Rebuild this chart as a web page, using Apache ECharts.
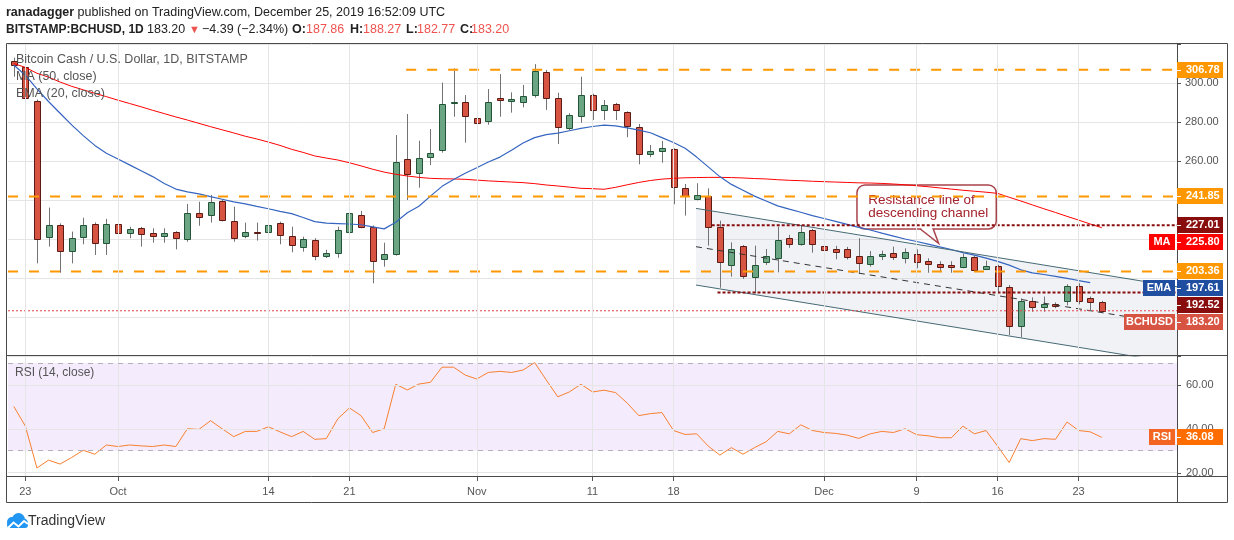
<!DOCTYPE html>
<html lang="en">
<head>
<meta charset="UTF-8">
<title>BCHUSD 1D - descending channel</title>
<script src="https://cdn.jsdelivr.net/npm/echarts@6/dist/echarts.min.js"></script>
<style>
  html, body { margin: 0; padding: 0; background: #fff; }
  #chart { width: 1234px; height: 540px; }
</style>
</head>
<body>
<div id="chart"></div>
<script>
'use strict';

// ---- data (read off the snapshot) ----
// one category per day, Sep 22 .. Dec 31 2019
var firstDay = Date.UTC(2019, 8, 22);
var dates = [];
for (var k = 0; k <= 100; k++) {
    dates.push(new Date(firstDay + k * 864e5).toISOString().slice(0, 10));
}
var tickDates = ['2019-09-23', '2019-10-01', '2019-10-14', '2019-10-21', '2019-11-01', '2019-11-11',
    '2019-11-18', '2019-12-01', '2019-12-09', '2019-12-16', '2019-12-23'];
var tickNames = ['23', 'Oct', '14', '21', 'Nov', '11', '18', 'Dec', '9', '16', '23'];

// [open, high, low, close], Sep 22 .. Dec 25
var candles = [
    [311.4, 313.0, 303.2, 309.1], [308.0, 309.5, 291.0, 292.5], [290.8, 291.5, 207.5, 219.8], [220.9, 236.1, 216.1, 227.2],
    [227.2, 228.0, 202.7, 214.0], [213.7, 223.8, 207.5, 220.4], [220.9, 230.9, 217.3, 227.2], [227.7, 228.5, 211.8, 218.1],
    [218.1, 230.3, 211.8, 227.7], [227.7, 236.1, 218.6, 223.2], [223.2, 226.3, 220.4, 225.1], [225.5, 226.2, 216.1, 222.4],
    [223.1, 225.5, 218.1, 221.7], [221.7, 225.5, 218.1, 223.1], [223.4, 224.0, 214.7, 220.4], [219.8, 238.0, 218.6, 233.2],
    [233.2, 239.1, 226.8, 231.5], [232.2, 242.6, 228.4, 238.8], [239.6, 240.2, 229.0, 229.7], [229.4, 236.6, 218.6, 220.4],
    [221.4, 228.4, 220.4, 223.8], [223.5, 228.4, 219.2, 223.0], [223.4, 230.9, 221.2, 227.2], [228.1, 228.9, 217.3, 221.9],
    [221.5, 226.3, 213.2, 216.9], [216.1, 221.2, 213.5, 220.0], [219.5, 220.4, 209.1, 211.4], [211.4, 214.5, 210.3, 212.8],
    [213.0, 226.3, 210.4, 224.5], [223.4, 236.6, 222.8, 233.2], [232.2, 234.4, 225.5, 226.3], [226.3, 227.0, 197.3, 208.9],
    [209.7, 218.1, 205.8, 212.2], [212.2, 273.3, 211.5, 259.3], [260.9, 284.1, 240.0, 253.2], [253.7, 270.4, 246.3, 261.4],
    [261.9, 276.4, 257.9, 264.0], [265.6, 300.2, 264.3, 289.1], [289.6, 307.5, 282.7, 290.1], [290.4, 293.8, 269.4, 283.2],
    [281.9, 283.6, 269.9, 279.3], [280.4, 296.9, 278.6, 290.1], [292.1, 304.6, 282.7, 291.4], [291.0, 295.2, 284.8, 291.6],
    [290.1, 299.0, 287.5, 293.3], [293.7, 309.7, 292.5, 306.0], [305.5, 306.7, 286.2, 292.2], [292.2, 295.0, 268.7, 277.3],
    [276.8, 284.5, 275.9, 283.4], [282.9, 303.2, 279.6, 293.8], [293.8, 294.5, 281.0, 286.2], [286.0, 291.3, 281.0, 288.7],
    [289.1, 289.8, 281.0, 286.0], [285.0, 285.5, 272.2, 277.8], [277.3, 279.0, 258.3, 263.4], [263.4, 268.2, 261.9, 265.3],
    [265.0, 270.3, 259.1, 266.5], [266.0, 266.5, 237.8, 246.5], [246.0, 248.2, 232.0, 241.9], [240.4, 248.6, 239.8, 242.4],
    [241.9, 246.0, 216.6, 226.0], [226.2, 229.4, 195.0, 208.4], [206.5, 218.3, 200.7, 214.7], [216.4, 216.9, 199.5, 201.2],
    [200.7, 216.6, 192.2, 206.7], [208.4, 214.9, 206.7, 211.3], [210.1, 226.3, 202.9, 219.5], [220.7, 222.1, 215.5, 217.3],
    [217.3, 227.2, 216.6, 223.8], [224.5, 225.2, 213.0, 217.3], [216.4, 217.8, 209.1, 214.2], [214.7, 216.5, 209.6, 213.5],
    [214.7, 216.0, 209.5, 210.6], [211.3, 220.4, 202.2, 207.5], [207.2, 213.8, 205.8, 211.3], [211.3, 214.0, 209.2, 212.3],
    [212.7, 216.1, 209.2, 211.0], [210.1, 215.2, 207.5, 213.5], [212.3, 214.7, 205.0, 208.0], [208.7, 210.1, 202.7, 207.3],
    [207.2, 208.6, 203.0, 205.5], [206.7, 208.6, 202.7, 205.8], [205.8, 212.5, 205.0, 211.0], [211.0, 211.5, 203.5, 204.1],
    [204.6, 208.9, 204.1, 206.3], [206.3, 206.8, 192.2, 195.9], [195.2, 196.4, 170.8, 175.4], [175.6, 189.6, 169.6, 188.2],
    [188.4, 190.1, 182.7, 185.3], [185.3, 190.5, 182.7, 186.7], [186.7, 187.5, 184.5, 185.8], [188.4, 196.8, 186.0, 195.9],
    [196.1, 197.3, 186.5, 188.4], [189.6, 190.5, 183.6, 187.59], [187.86, 188.27, 182.77, 183.20]
];

var ma50 = [310, 308, 305, 303, 300.5, 298.3, 296.5, 294.7, 293, 291.2,
    289.5, 287.8, 286, 284.3, 282.6, 281, 279.3, 277.6, 276, 274.4,
    272.7, 271.3, 269.7, 268, 266, 264.4, 262.6, 261.5, 260.5, 259.1,
    257.5, 255.8, 254.3, 253.2, 252.3, 251.6, 251.1, 250.9, 250.8, 250.6,
    250.2, 249.8, 249.5, 249.2, 248.9, 248.4, 247.7, 247.2, 246.6, 246,
    245.8, 245.5, 246.5, 247.8, 249, 250, 250.7, 251.1, 251.4, 251.5,
    251.6, 251.6, 251.5, 251.3, 251, 250.8, 250.4, 250.1, 249.9, 249.6,
    249.4, 249.2, 249, 248.8, 248.7, 248.5, 248.2, 247.8, 247.3, 246.8,
    246.2, 245.6, 245, 244.5, 244, 243.4, 241.4, 239.5, 237.5, 235.5,
    233.6, 231.6, 229.7, 227.7, 225.80];

var ema20 = [309.2, 304, 297, 290.5, 284.5, 278.5, 273, 268, 264, 261,
    258, 255, 252, 248.5, 245.6, 244.2, 243.1, 241.7, 240.4, 239,
    238, 236.7, 235.5, 234.2, 233, 231, 228.9, 228.1, 227.9, 227.7,
    227.3, 226.2, 225.2, 228.6, 233.5, 236.8, 242, 247, 250.5, 253.7,
    256.5, 259.5, 262, 265.5, 269.2, 272, 273.5, 274.3, 275.5, 276.7,
    277.7, 278.4, 278, 277, 275.8, 274.5, 272, 269.5, 266.5, 262,
    257, 252, 248, 245, 242, 239.5, 237, 235.3, 233.7, 232,
    230.5, 229, 227.5, 226, 224.6, 223, 221.5, 220, 218.7, 217.4,
    216, 214.6, 213, 211.7, 210.2, 208.5, 206.6, 204.2, 202.6, 201.8,
    200.8, 199.8, 198.7, 197.61];

var rsi14 = [50.2, 41.2, 22.1, 25.7, 23.9, 26.9, 30.2, 28.4, 32.6, 31.9,
    32.6, 32.2, 31.9, 32.6, 31.9, 40, 39.7, 43.7, 40, 36.4,
    38.8, 38.8, 40.9, 38.6, 36.4, 38.8, 35.2, 35.5, 44.6, 49.5,
    46, 38.3, 40, 60.3, 57.7, 60.4, 61.2, 68.1, 68.1, 64.5,
    62.7, 65.7, 66.2, 65.7, 66.8, 70.2, 62.3, 54.6, 56.8, 60.3,
    56.8, 57.6, 56.5, 51.7, 46, 46.9, 47.4, 39.2, 37.4, 37.7,
    32.1, 28, 31.4, 28.4, 31.4, 34.1, 38.8, 37.7, 41.8, 39.2,
    38.3, 37.9, 37.1, 35.6, 37.7, 38.8, 38.3, 40, 37.3, 36.8,
    35.9, 35.9, 41.2, 37.7, 39.2, 32.1, 24.6, 35.5, 34.6, 35.5,
    35.2, 43.1, 39.2, 38.6, 36.08];

// drawings, x in day index (0 = Sep 22), y in price
var orangeLevels = [306.78, 241.85, 203.36];
var orangeStarts = [33.9, -0.5, -0.5];
var redLevels = [227.01, 192.52];
var redStarts = [60.3, 60.8];
var channelUpper = [[58.94, 235.7], [100.5, 195.5]];
var channelLower = [[58.94, 196.4], [100.5, 156.25]];
var channelMid = [[58.94, 216.05], [96.2, 180.15]];
var calloutTip = [79.9, 217.8];
var calloutText = 'Resistance line of\ndescending channel';
var rsiGuides = [70, 30];
var rsiGrid = [20, 40, 60];

// ---- styles ----
var FONT = "'Liberation Sans', 'DejaVu Sans', Arial, sans-serif";
var UP_FILL = '#6ba583', UP_LINE = '#225437';
var DN_FILL = '#d75442', DN_LINE = '#5b1a13';
var WICK = '#737375';
var ORANGE = '#ff9800', DARKRED = '#880e0e';
var MA_RED = '#ff0000', EMA_BLUE = '#3565c0', EMA_BADGE = '#1f4ea1';
var RSI_LINE = '#f7802f';
var GRID = '#e5e5e5', TEXT = '#555';
var AXIS_X = 1177;

var lastIdx = candles.length - 1;
var lastClose = candles[lastIdx][3];

function renderCandle(params, api) {
    var i = api.value(0), o = api.value(1), c = api.value(2), l = api.value(3), h = api.value(4);
    var pO = api.coord([i, o]), pC = api.coord([i, c]);
    var pH = api.coord([i, h]), pL = api.coord([i, l]);
    var x = Math.round(pO[0]);
    var up = c >= o;
    var yTop = Math.round(Math.min(pO[1], pC[1])) + 0.5;
    var yBot = Math.round(Math.max(pO[1], pC[1])) + 0.5;
    if (yBot - yTop < 1) yBot = yTop + 1;
    return {
        type: 'group',
        children: [
            {type: 'line', shape: {x1: x + 0.5, y1: pH[1], x2: x + 0.5, y2: pL[1]},
                style: {stroke: WICK, lineWidth: 1}},
            {type: 'rect', shape: {x: x - 2.5, y: yTop, width: 6, height: yBot - yTop},
                style: {fill: up ? UP_FILL : DN_FILL, stroke: up ? UP_LINE : DN_LINE, lineWidth: 1}}
        ]
    };
}

function renderChannel(params, api) {
    var pts = channelUpper.map(function (p) { return api.coord(p); })
        .concat(channelLower.slice().reverse().map(function (p) { return api.coord(p); }));
    return {type: 'polygon', shape: {points: pts}, style: {fill: 'rgba(190,198,212,0.22)'}};
}

function segment(name, pts, color, width, dash, z) {
    return {
        name: name, type: 'line', xAxisIndex: 2, yAxisIndex: 0, data: pts,
        symbol: 'none', silent: true, z: z,
        lineStyle: {color: color, width: width, type: dash}
    };
}

var series = [];

// vertical grid lines in both panes
[0, 1].forEach(function (g) {
    series.push({
        type: 'line', xAxisIndex: g, yAxisIndex: g, data: [], silent: true, z: 1,
        markLine: {
            silent: true, symbol: ['none', 'none'], label: {show: false},
            lineStyle: {color: GRID, width: 1, type: 'solid'},
            data: tickDates.map(function (d) { return {xAxis: d}; })
        }
    });
});

// RSI band and horizontal guides
series.push({
    type: 'line', xAxisIndex: 1, yAxisIndex: 1, data: [], silent: true, z: 1,
    markArea: {silent: true, itemStyle: {color: 'rgba(186,130,240,0.16)'},
        data: [[{yAxis: rsiGuides[1]}, {yAxis: rsiGuides[0]}]]},
    markLine: {
        silent: true, symbol: ['none', 'none'], label: {show: false},
        data: rsiGrid.map(function (v) {
            return {yAxis: v, lineStyle: {color: GRID, width: 1, type: 'solid'}};
        }).concat(rsiGuides.map(function (v) {
            return {yAxis: v, lineStyle: {color: '#b5afb8', width: 1, type: [5, 5]}};
        }))
    }
});

// channel fill
series.push({
    type: 'custom', xAxisIndex: 2, yAxisIndex: 0, data: [channelUpper[0]],
    renderItem: renderChannel, clip: true, silent: true, z: 1
});

// candles
series.push({
    name: 'BCHUSD', type: 'custom', xAxisIndex: 0, yAxisIndex: 0,
    data: candles.map(function (r, i) { return [i, r[0], r[3], r[2], r[1]]; }),
    encode: {x: 0, y: [1, 2, 3, 4]}, renderItem: renderCandle, clip: true, silent: true, z: 2
});

series.push({name: 'MA', type: 'line', xAxisIndex: 0, yAxisIndex: 0, data: ma50, symbol: 'none',
    silent: true, z: 3, lineStyle: {color: MA_RED, width: 1}});
series.push({name: 'EMA', type: 'line', xAxisIndex: 0, yAxisIndex: 0, data: ema20, symbol: 'none',
    silent: true, z: 3, lineStyle: {color: EMA_BLUE, width: 1.2}});

// channel lines
series.push(segment('upper', channelUpper, '#456a74', 1, 'solid', 4));
series.push(segment('lower', channelLower, '#456a74', 1, 'solid', 4));
series.push(segment('mid', channelMid, '#333', 1, [6, 5], 4));

// horizontal levels
orangeLevels.forEach(function (v, k) {
    series.push(segment('o' + k, [[orangeStarts[k], v], [100.5, v]], ORANGE, 2, [10, 11], 4));
});
redLevels.forEach(function (v, k) {
    series.push(segment('r' + k, [[redStarts[k], v], [100.5, v]], DARKRED, 2, [3, 2], 4));
});
series.push(segment('last', [[-0.5, lastClose], [100.5, lastClose]], '#e04848', 1, [2, 2], 4));

// RSI
series.push({name: 'RSI', type: 'line', xAxisIndex: 1, yAxisIndex: 1, data: rsi14, symbol: 'none',
    silent: true, z: 4, clip: false, lineStyle: {color: RSI_LINE, width: 1}});

var isTick = function (idx, val) { return tickDates.indexOf(val) >= 0; };

var option = {
    animation: false,
    textStyle: {fontFamily: FONT},
    grid: [
        {left: 8, right: 57, top: 44, height: 312, outerBoundsMode: 'none'},
        {left: 8, right: 57, top: 356, height: 121, outerBoundsMode: 'none'}
    ],
    xAxis: [
        {type: 'category', gridIndex: 0, data: dates, show: false, boundaryGap: true},
        {type: 'category', gridIndex: 1, data: dates, boundaryGap: true,
            axisLine: {show: false},
            axisTick: {show: true, interval: isTick, alignWithLabel: true, length: 4, lineStyle: {color: TEXT}},
            axisLabel: {interval: isTick, color: TEXT, fontSize: 11, margin: 9, fontFamily: FONT,
                formatter: function (v) { return tickNames[tickDates.indexOf(v)]; }},
            splitLine: {show: false}},
        {type: 'value', gridIndex: 0, min: -0.5, max: 100.5, show: false}
    ],
    yAxis: [
        {type: 'value', gridIndex: 0, position: 'right', min: 160, max: 320, interval: 20,
            axisLine: {show: false, onZero: false},
            axisTick: {show: true, length: 4, lineStyle: {color: TEXT}},
            axisLabel: {color: TEXT, fontSize: 11, margin: 8, fontFamily: FONT,
                formatter: function (v) { return (v >= 260 && v <= 300) ? v.toFixed(2) : ''; }},
            splitLine: {lineStyle: {color: GRID, width: 1}}},
        {type: 'value', gridIndex: 1, position: 'right', min: 18, max: 73.2, show: false,
            axisLine: {onZero: false}, splitLine: {show: false}}
    ],
    series: series
};

var chart = echarts.init(document.getElementById('chart'), null, {renderer: 'canvas'});
chart.setOption(option);

// ---- chrome, labels and badges ----
var els = [];
function txt(x, y, text, font, fill, extra) {
    var st = {text: text, font: font, fill: fill, align: 'left', verticalAlign: 'middle'};
    if (extra) for (var key in extra) st[key] = extra[key];
    els.push({type: 'text', x: x, y: y, silent: true, z: 60, style: st});
}
function hline(x1, y, x2, color, z) {
    els.push({type: 'line', silent: true, z: z, shape: {x1: x1, y1: y, x2: x2, y2: y},
        style: {stroke: color, lineWidth: 1}});
}

// frame
[[6.5, 43.5, 1227.5, 43.5], [6.5, 355.5, 1227.5, 355.5], [6.5, 476.5, 1227.5, 476.5],
    [6.5, 502.5, 1227.5, 502.5], [6.5, 43.5, 6.5, 502.5], [AXIS_X + 0.5, 43.5, AXIS_X + 0.5, 502.5],
    [1227.5, 43.5, 1227.5, 502.5]].forEach(function (s) {
    els.push({type: 'line', silent: true, z: 40, shape: {x1: s[0], y1: s[1], x2: s[2], y2: s[3]},
        style: {stroke: '#4a4a4a', lineWidth: 1}});
});

// header
var HB = 'bold 12.5px ' + FONT, HR = '12.5px ' + FONT, RED = '#ef5350';
txt(6, 13, '{b|ranadagger} published on TradingView.com, December 25, 2019 16:52:09 UTC', HR, '#222',
    {rich: {b: {font: HB, fill: '#222'}}});
txt(6, 30, 'BITSTAMP:BCHUSD, 1D', 'bold 12px ' + FONT, '#222');
txt(147, 30, lastClose.toFixed(2), HR, '#222');
txt(189, 30, '\u25BC', '11px ' + FONT, RED);
txt(202, 30, '\u22124.39 (\u22122.34%)', HR, '#222');
[['O:', 292, candles[lastIdx][0], 306], ['H:', 350, candles[lastIdx][1], 363],
    ['L:', 406, candles[lastIdx][2], 417], ['C:', 460, candles[lastIdx][3], 471]].forEach(function (q) {
    txt(q[1], 30, q[0], HB, '#222');
    txt(q[3], 30, q[2].toFixed(2), HR, RED);
});

// pane legends
txt(16, 60, 'Bitcoin Cash / U.S. Dollar, 1D, BITSTAMP', '12.5px ' + FONT, TEXT);
txt(16, 77, 'MA (50, close)', '12.5px ' + FONT, TEXT);
txt(16, 94, 'EMA (20, close)', '12.5px ' + FONT, TEXT);
txt(15, 373, 'RSI (14, close)', '12px ' + FONT, TEXT);

// logo
els.push({type: 'group', x: 6, y: 512, silent: true, z: 60, children: [
    {type: 'circle', shape: {cx: 6, cy: 10, r: 5}, style: {fill: '#2196f3'}},
    {type: 'circle', shape: {cx: 12.5, cy: 7.5, r: 6.5}, style: {fill: '#2196f3'}},
    {type: 'circle', shape: {cx: 17.5, cy: 11, r: 4.5}, style: {fill: '#2196f3'}},
    {type: 'rect', shape: {x: 1, y: 10, width: 21, height: 6, r: 3}, style: {fill: '#2196f3'}},
    {type: 'polyline', shape: {points: [[2, 16], [7.5, 10.5], [12.5, 14.5], [18, 9], [22, 12]]},
        style: {stroke: '#fff', lineWidth: 2, fill: null}}
]});
txt(28, 521, 'TradingView', '14px ' + FONT, '#333');

// callout
var tip = chart.convertToPixel({xAxisIndex: 2, yAxisIndex: 0}, calloutTip);
els.push({type: 'group', x: tip[0], y: tip[1], silent: true, z: 55, children: [
    {type: 'rect', shape: {x: -81.6, y: -58.3, width: 139.3, height: 44, r: 8},
        style: {fill: 'rgba(255,255,255,0.88)', stroke: '#a8434b', lineWidth: 1.5}},
    {type: 'polygon', shape: {points: [[-17.6, -14.3], [0, 0], [-6, -14.3]]},
        style: {fill: 'rgba(255,255,255,0.88)'}},
    {type: 'line', shape: {x1: -17.2, y1: -14.3, x2: -6.4, y2: -14.3}, style: {stroke: '#fff', lineWidth: 2.5}},
    {type: 'polyline', shape: {points: [[-18.3, -14.3], [0, 0], [-5.3, -14.3]]},
        style: {stroke: '#a8434b', lineWidth: 1.5, fill: null}},
    {type: 'text', x: -70.3, y: -49, style: {text: calloutText, font: '13.5px ' + FONT, fill: '#a3222c',
        align: 'left', verticalAlign: 'top', lineHeight: 12.5}}
]});

// price-scale badges
function badge(y, value, color, name, nameW, nameColor) {
    y = Math.round(y);
    if (name) {
        els.push({type: 'rect', silent: true, z: 50,
            shape: {x: AXIS_X - 2 - nameW, y: y - 8, width: nameW, height: 16}, style: {fill: nameColor}});
        els.push({type: 'text', silent: true, z: 51, x: AXIS_X - 2 - nameW / 2, y: y,
            style: {text: name, font: 'bold 11px ' + FONT, fill: '#fff', align: 'center', verticalAlign: 'middle'}});
    }
    els.push({type: 'rect', silent: true, z: 50, shape: {x: AXIS_X, y: y - 8, width: 46, height: 16},
        style: {fill: color}});
    hline(AXIS_X, y + 0.5, AXIS_X + 4, '#fff', 51);
    els.push({type: 'text', silent: true, z: 51, x: AXIS_X + 9, y: y,
        style: {text: value.toFixed(2), font: 'bold 11px ' + FONT, fill: '#fff', align: 'left', verticalAlign: 'middle'}});
}

var mainBadges = [
    {v: orangeLevels[0], c: ORANGE},
    {v: orangeLevels[1], c: ORANGE},
    {v: redLevels[0], c: DARKRED},
    {v: ma50[ma50.length - 1], c: MA_RED, n: 'MA', w: 26, nc: MA_RED},
    {v: orangeLevels[2], c: ORANGE},
    {v: ema20[ema20.length - 1], c: EMA_BADGE, n: 'EMA', w: 32, nc: EMA_BADGE},
    {v: redLevels[1], c: DARKRED},
    {v: lastClose, c: DN_FILL, n: 'BCHUSD', w: 51, nc: DN_FILL}
];
mainBadges.forEach(function (b) { b.y = chart.convertToPixel({yAxisIndex: 0}, b.v); });
mainBadges.sort(function (a, b) { return a.y - b.y; });
var prevY = -1e9;
mainBadges.forEach(function (b) {
    b.y = Math.max(b.y, prevY + 17);
    prevY = b.y;
    badge(b.y, b.v, b.c, b.n, b.w, b.nc);
});

// RSI scale
rsiGrid.forEach(function (v) {
    var y = Math.round(chart.convertToPixel({yAxisIndex: 1}, v));
    hline(AXIS_X, y + 0.5, AXIS_X + 4, TEXT, 45);
    txt(AXIS_X + 9, y, v.toFixed(2), '11px ' + FONT, TEXT);
    els[els.length - 1].z = 45;
});
var rsiLast = rsi14[rsi14.length - 1];
badge(chart.convertToPixel({yAxisIndex: 1}, rsiLast), rsiLast, '#ff6d00', 'RSI', 26, '#f26522');

chart.setOption({graphic: {elements: els}});
</script>
</body>
</html>
